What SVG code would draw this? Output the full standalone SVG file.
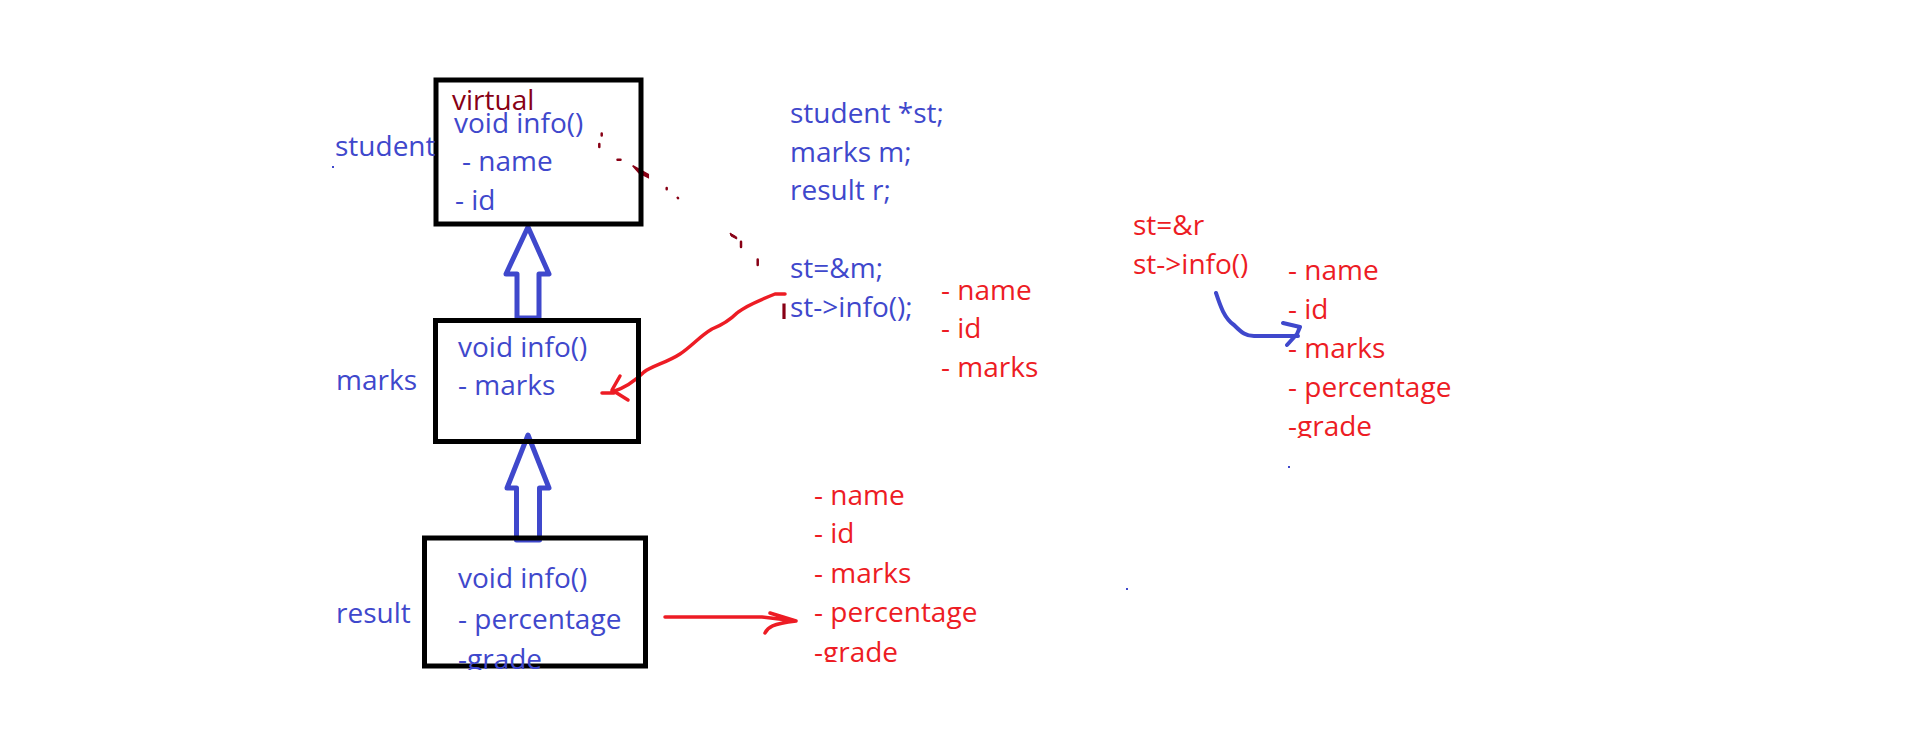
<svg xmlns="http://www.w3.org/2000/svg" width="1914" height="734" viewBox="0 0 1914 734">
<style>
text{font-family:"Open Sans","Noto Sans","Liberation Sans",sans-serif;font-size:28px}
.b{fill:#3F48CC}
.r{fill:#ED1C24}
.d{fill:#880015}
.box{fill:none;stroke:#000;stroke-width:5}
.hollow{fill:#fff;stroke:#3F48CC;stroke-width:5;stroke-linejoin:round}
.rl{fill:none;stroke:#ED1C24;stroke-width:3.5;stroke-linecap:round;stroke-linejoin:round}
.bl{fill:none;stroke:#3F48CC;stroke-width:4;stroke-linecap:round;stroke-linejoin:round}
.dk{fill:none;stroke:#880015;stroke-width:2.5;stroke-linecap:round}
</style>
<defs>
<clipPath id="c1"><rect x="0" y="0" width="1914" height="670"/></clipPath>
<clipPath id="c2"><rect x="0" y="0" width="1914" height="662"/></clipPath>
<clipPath id="c3"><rect x="0" y="0" width="1914" height="438"/></clipPath>
</defs>
<rect width="1914" height="734" fill="#fff"/>

<g id="connectors">
<path class="hollow" d="M528,227 L549,274 L539,274 L539,318 L517,318 L517,274 L506,274 Z"/>
<path class="hollow" d="M528,435 L549,488 L539.5,488 L539.5,540 L516.5,540 L516.5,488 L507,488 Z"/>
<path class="rl" d="M785,294 L775,294 C760,300 745,306 737,313 C730,320 722,325 712,329 C700,336 692,346 680,354 C668,362 652,366 644,372 C636,380 625,388 612,392"/>
<path class="rl" d="M620,376 L612,390 L628,400 M602,393 L614,393"/>
<path class="rl" d="M665,617 L762,617 L796,621 M770,613 L796,621 M765,633 C768,627 772,624 796,621"/>
<path class="bl" d="M1216,293 C1220,305 1224,318 1234,325 C1242,333 1246,336 1254,336 L1298,336 M1283,323 L1300,327 L1297,334 L1287,345"/>
</g>

<g id="marks-dotted">
<path class="dk" d="M601.7,133.5 L601.7,135.5 M599.3,144 L599.3,147 M617.5,159.7 L620.5,159.7 M741,241.7 L741,247 M757.7,259.5 L757.7,265 M666.7,188 L666.7,189.3 M677.7,197.7 L678,198.2"/>
<path d="M632.7,165.7 L648.3,174.5 L648.3,177.5 L639,173 Z" fill="#880015" stroke="#880015" stroke-width="1.5"/>
<path d="M730,233 L736.7,237 L736.7,239 L731,236 Z" fill="#880015" stroke="#880015" stroke-width="1"/>
<path d="M784,303.5 L784,319" stroke="#880015" stroke-width="3.2"/>
<rect x="332" y="166" width="2" height="2" fill="#3F48CC"/>
<rect x="1288" y="466" width="2" height="2" fill="#3F48CC"/>
<rect x="1126" y="588" width="2" height="2" fill="#3F48CC"/>
</g>

<g id="student">
<rect class="box" x="436" y="80" width="205" height="144"/>
<text class="b" x="335" y="156">student</text>
<text class="d" x="452" y="110">virtual</text>
<text class="b" x="454" y="133">void info()</text>
<text class="b" x="462" y="171">- name</text>
<text class="b" x="455" y="210">- id</text>
</g>

<g id="marks">
<rect class="box" x="435.5" y="320.5" width="203" height="121"/>
<text class="b" x="336" y="390">marks</text>
<text class="b" x="458" y="357">void info()</text>
<text class="b" x="458" y="395">- marks</text>
</g>

<g id="result">
<rect class="box" x="424.5" y="538" width="221" height="128" stroke-width="5.5"/>
<text class="b" x="336" y="623">result</text>
<text class="b" x="458" y="588">void info()</text>
<text class="b" x="458" y="629">- percentage</text>
<text class="b" x="458" y="669" clip-path="url(#c1)">-grade</text>
</g>

<g id="code">
<text class="b" x="790" y="123">student *st;</text>
<text class="b" x="790" y="162">marks m;</text>
<text class="b" x="790" y="200">result r;</text>
<text class="b" x="790" y="278">st=&amp;m;</text>
<text class="b" x="790" y="317">st-&gt;info();</text>
</g>

<g id="marks-output">
<text class="r" x="941" y="300">- name</text>
<text class="r" x="941" y="338">- id</text>
<text class="r" x="941" y="377">- marks</text>
</g>

<g id="result-output">
<text class="r" x="814" y="505">- name</text>
<text class="r" x="814" y="543">- id</text>
<text class="r" x="814" y="583">- marks</text>
<text class="r" x="814" y="622">- percentage</text>
<text class="r" x="814" y="661.5" clip-path="url(#c2)">-grade</text>
</g>

<g id="call-r">
<text class="r" x="1133" y="235">st=&amp;r</text>
<text class="r" x="1133" y="274">st-&gt;info()</text>
</g>

<g id="r-output">
<text class="r" x="1288" y="280">- name</text>
<text class="r" x="1288" y="319">- id</text>
<text class="r" x="1288" y="358">- marks</text>
<text class="r" x="1288" y="397">- percentage</text>
<text class="r" x="1288" y="436" clip-path="url(#c3)">-grade</text>
</g>
</svg>
